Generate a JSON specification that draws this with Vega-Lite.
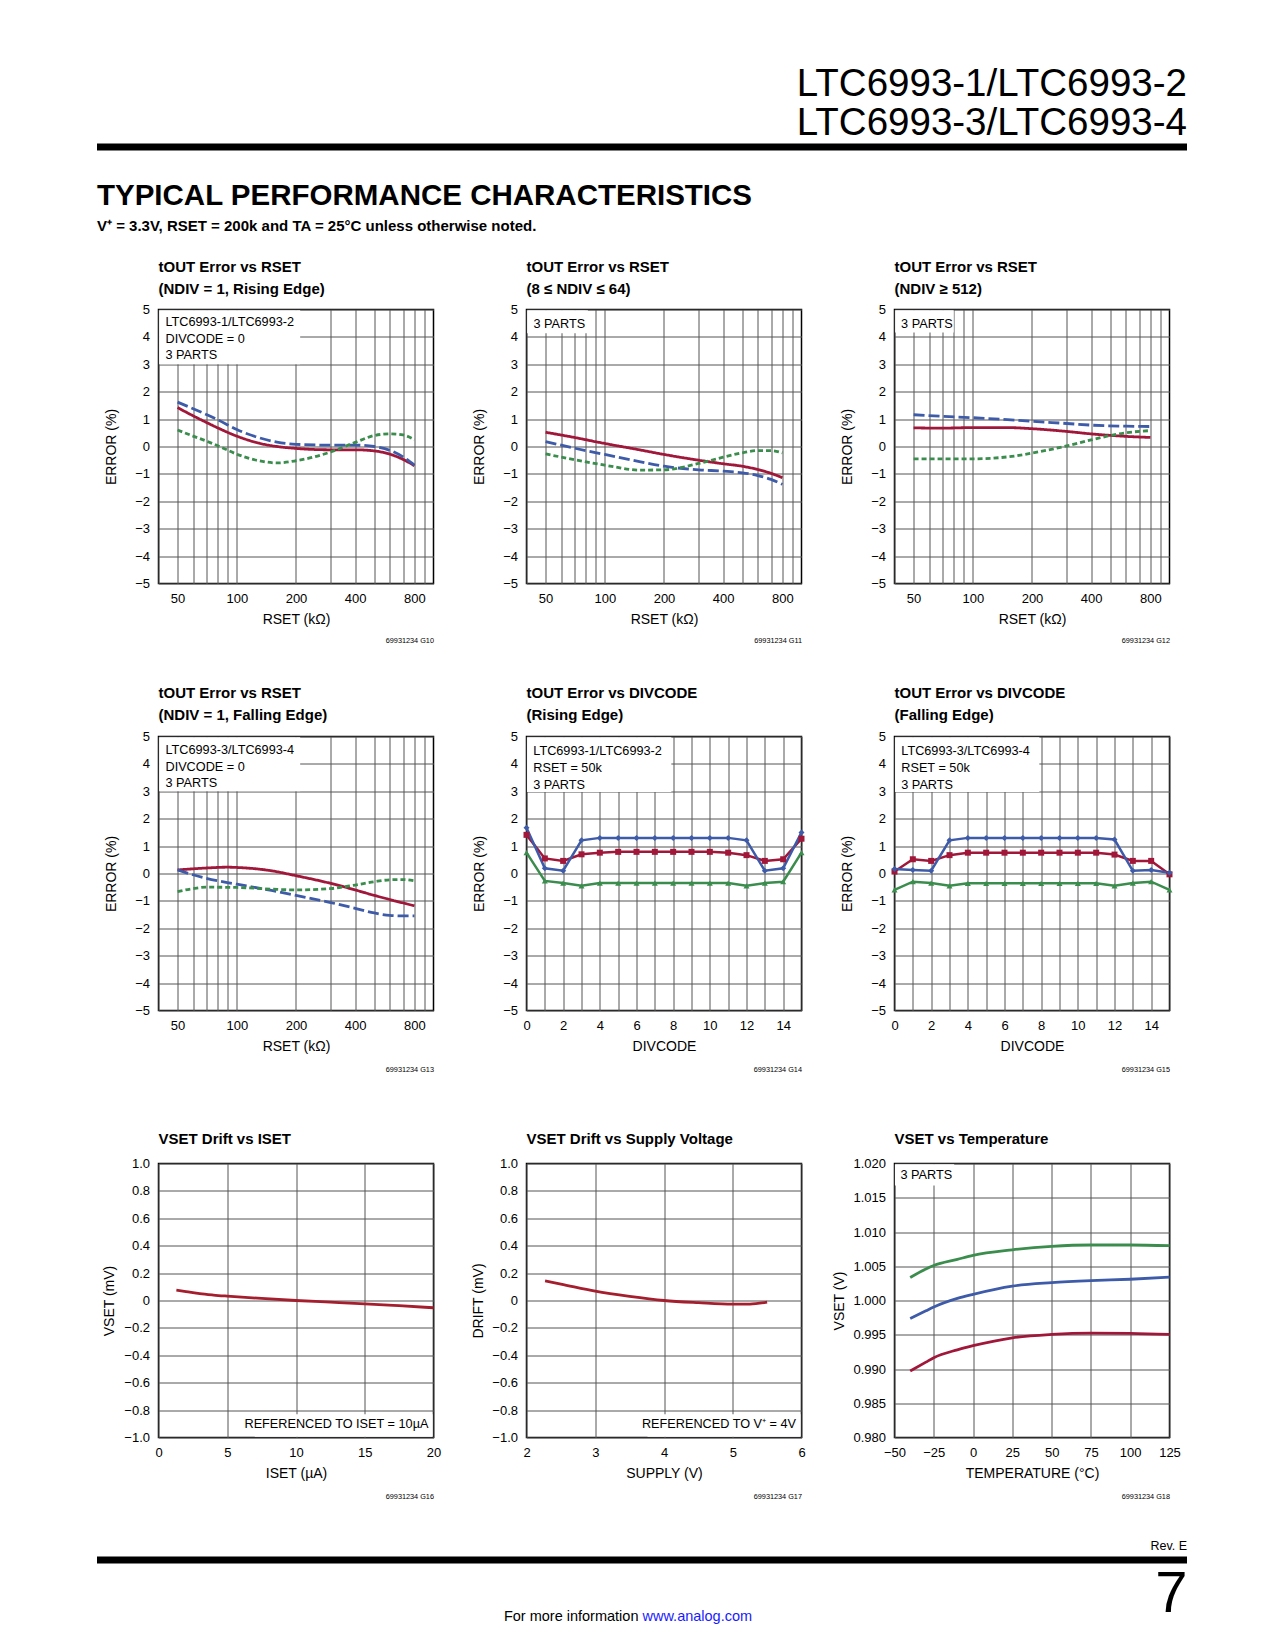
{
  "$schema": "https://vega.github.io/schema/vega-lite/v6.json",
  "background": "white",
  "padding": {"left": 94, "top": 64.5, "right": 10, "bottom": 10},
  "spacing": 38,
  "vconcat": [
    {
      "spacing": 30,
      "vconcat": [
        {
          "width": 1090,
          "height": 7,
          "title": {"text": ["LTC6993-1/LTC6993-2", "LTC6993-3/LTC6993-4"], "anchor": "end", "fontSize": 38.5, "fontWeight": "normal", "lineHeight": 39, "offset": 0},
          "view": {"stroke": null},
          "data": {"values": [{}]},
          "mark": {"type": "rect", "color": "black"},
          "encoding": {
            "x": {"datum": 0, "type": "quantitative", "scale": {"domain": [0, 1], "nice": false, "zero": false}, "axis": null},
            "x2": {"datum": 1},
            "y": {"datum": 0, "type": "quantitative", "scale": {"domain": [0, 1], "nice": false, "zero": false}, "axis": null},
            "y2": {"datum": 1}
          }
        },
        {
          "title": {"text": "TYPICAL PERFORMANCE CHARACTERISTICS", "subtitle": "V⁺ = 3.3V, RSET = 200k and TA = 25°C unless otherwise noted.", "fontSize": 29.5, "fontWeight": "bold", "subtitleFontSize": 15, "subtitleFontWeight": "bold", "subtitleFont": "Liberation Sans, Arial, sans-serif", "subtitleColor": "black", "subtitlePadding": 7, "offset": 24, "anchor": "start", "frame": "group"},
          "bounds": "flush",
          "spacing": 60.5,
          "hconcat": [
            {
              "width": 1,
              "height": 1,
              "view": {"stroke": null},
              "data": {"values": [{}]},
              "mark": {"type": "rect", "opacity": 0},
              "encoding": {
                "x": {"datum": 0, "type": "quantitative", "axis": null},
                "y": {"datum": 0, "type": "quantitative", "axis": null}
              }
            },
            {
              "columns": 3,
              "bounds": "flush",
              "spacing": {"row": 153, "column": 93},
              "concat": [
                {
                  "width": 275,
                  "height": 274,
                  "title": {"text": ["tOUT Error vs RSET", "(NDIV = 1, Rising Edge)"], "fontSize": 15, "lineHeight": 22, "offset": 7},
                  "layer": [
                    {"data": {"values": [
                      {"r": 50, "e": 1.42, "p": "Part 1"}, {"r": 60, "e": 1.12, "p": "Part 1"}, {"r": 70, "e": 0.88, "p": "Part 1"}, {"r": 80, "e": 0.68, "p": "Part 1"}, {"r": 100, "e": 0.38, "p": "Part 1"}, {"r": 130, "e": 0.12, "p": "Part 1"}, {"r": 160, "e": 0.0, "p": "Part 1"}, {"r": 200, "e": -0.07, "p": "Part 1"}, {"r": 300, "e": -0.12, "p": "Part 1"}, {"r": 400, "e": -0.12, "p": "Part 1"}, {"r": 500, "e": -0.16, "p": "Part 1"}, {"r": 600, "e": -0.28, "p": "Part 1"}, {"r": 700, "e": -0.47, "p": "Part 1"}, {"r": 800, "e": -0.7, "p": "Part 1"},
                      {"r": 50, "e": 1.62, "p": "Part 2"}, {"r": 60, "e": 1.38, "p": "Part 2"}, {"r": 70, "e": 1.17, "p": "Part 2"}, {"r": 80, "e": 0.98, "p": "Part 2"}, {"r": 100, "e": 0.62, "p": "Part 2"}, {"r": 130, "e": 0.32, "p": "Part 2"}, {"r": 160, "e": 0.16, "p": "Part 2"}, {"r": 200, "e": 0.08, "p": "Part 2"}, {"r": 300, "e": 0.05, "p": "Part 2"}, {"r": 400, "e": 0.05, "p": "Part 2"}, {"r": 500, "e": 0.0, "p": "Part 2"}, {"r": 600, "e": -0.14, "p": "Part 2"}, {"r": 700, "e": -0.38, "p": "Part 2"}, {"r": 800, "e": -0.68, "p": "Part 2"},
                      {"r": 50, "e": 0.6, "p": "Part 3"}, {"r": 60, "e": 0.38, "p": "Part 3"}, {"r": 70, "e": 0.2, "p": "Part 3"}, {"r": 80, "e": 0.03, "p": "Part 3"}, {"r": 100, "e": -0.28, "p": "Part 3"}, {"r": 130, "e": -0.52, "p": "Part 3"}, {"r": 160, "e": -0.6, "p": "Part 3"}, {"r": 200, "e": -0.52, "p": "Part 3"}, {"r": 300, "e": -0.2, "p": "Part 3"}, {"r": 400, "e": 0.15, "p": "Part 3"}, {"r": 500, "e": 0.4, "p": "Part 3"}, {"r": 600, "e": 0.46, "p": "Part 3"}, {"r": 700, "e": 0.42, "p": "Part 3"}, {"r": 800, "e": 0.25, "p": "Part 3"}
                    ]},
                     "mark": {"type": "line", "interpolate": "monotone", "strokeWidth": 2.8},
                     "encoding": {
                       "x": {"field": "r", "type": "quantitative", "scale": {"type": "log", "domain": [40, 1000], "nice": false}, "axis": {"orient": "bottom", "title": "RSET (kΩ)", "grid": true, "labelOverlap": false, "labelFlush": false, "values": [40, 50, 60, 70, 80, 90, 100, 200, 300, 400, 500, 600, 700, 800, 900], "labelExpr": "indexof([50,100,200,400,800], datum.value) >= 0 ? format(datum.value, 'd') : ''", "titlePadding": 7}},
                       "y": {"field": "e", "type": "quantitative", "scale": {"domain": [-5, 5], "nice": false, "zero": false}, "axis": {"title": "ERROR (%)", "grid": true, "labelOverlap": false, "values": [-5, -4, -3, -2, -1, 0, 1, 2, 3, 4, 5], "titlePadding": 16}},
                       "color": {"field": "p", "type": "nominal", "scale": {"domain": ["Part 1", "Part 2", "Part 3"], "range": ["#A0173A", "#3D5BA9", "#3A8D4C"]}, "legend": null},
                       "strokeDash": {"field": "p", "type": "nominal", "scale": {"domain": ["Part 1", "Part 2", "Part 3"], "range": [[1, 0], [11, 4], [5, 3]]}, "legend": null}
                     }},
                    {"data": {"values": [{}]}, "mark": {"type": "rect", "color": "white"},
                     "encoding": {"x": {"datum": 40.3, "type": "quantitative", "axis": {"orient": "bottom", "title": "69931234 G10", "labels": false, "grid": false, "titleFontSize": 7.3, "titleAnchor": "end", "titlePadding": 53}}, "x2": {"datum": 210}, "y": {"datum": 3.0, "type": "quantitative", "axis": null}, "y2": {"datum": 4.97}}},
                    {"data": {"values": [{}]}, "mark": {"type": "text", "align": "left", "baseline": "alphabetic", "lineHeight": 16.5},
                     "encoding": {"x": {"datum": 43.4, "type": "quantitative", "axis": null}, "y": {"datum": 4.38, "type": "quantitative", "axis": null}, "text": {"value": ["LTC6993-1/LTC6993-2", "DIVCODE = 0", "3 PARTS"]}}}
                  ],
                  "resolve": {"axis": {"x": "independent", "y": "independent"}}
                },
                {
                  "width": 275,
                  "height": 274,
                  "title": {"text": ["tOUT Error vs RSET", "(8 ≤ NDIV ≤ 64)"], "fontSize": 15, "lineHeight": 22, "offset": 7},
                  "layer": [
                    {"data": {"values": [
                      {"r": 50, "e": 0.52, "p": "Part 1"}, {"r": 70, "e": 0.33, "p": "Part 1"}, {"r": 100, "e": 0.11, "p": "Part 1"}, {"r": 150, "e": -0.12, "p": "Part 1"}, {"r": 200, "e": -0.29, "p": "Part 1"}, {"r": 300, "e": -0.5, "p": "Part 1"}, {"r": 400, "e": -0.63, "p": "Part 1"}, {"r": 500, "e": -0.72, "p": "Part 1"}, {"r": 600, "e": -0.84, "p": "Part 1"}, {"r": 700, "e": -0.98, "p": "Part 1"}, {"r": 800, "e": -1.14, "p": "Part 1"},
                      {"r": 50, "e": 0.18, "p": "Part 2"}, {"r": 70, "e": -0.06, "p": "Part 2"}, {"r": 100, "e": -0.29, "p": "Part 2"}, {"r": 150, "e": -0.55, "p": "Part 2"}, {"r": 200, "e": -0.72, "p": "Part 2"}, {"r": 300, "e": -0.85, "p": "Part 2"}, {"r": 400, "e": -0.9, "p": "Part 2"}, {"r": 500, "e": -0.96, "p": "Part 2"}, {"r": 600, "e": -1.06, "p": "Part 2"}, {"r": 700, "e": -1.2, "p": "Part 2"}, {"r": 800, "e": -1.38, "p": "Part 2"},
                      {"r": 50, "e": -0.27, "p": "Part 3"}, {"r": 70, "e": -0.48, "p": "Part 3"}, {"r": 100, "e": -0.68, "p": "Part 3"}, {"r": 150, "e": -0.86, "p": "Part 3"}, {"r": 200, "e": -0.85, "p": "Part 3"}, {"r": 300, "e": -0.62, "p": "Part 3"}, {"r": 400, "e": -0.39, "p": "Part 3"}, {"r": 500, "e": -0.23, "p": "Part 3"}, {"r": 600, "e": -0.15, "p": "Part 3"}, {"r": 700, "e": -0.15, "p": "Part 3"}, {"r": 800, "e": -0.23, "p": "Part 3"}
                    ]},
                     "mark": {"type": "line", "interpolate": "monotone", "strokeWidth": 2.8},
                     "encoding": {
                       "x": {"field": "r", "type": "quantitative", "scale": {"type": "log", "domain": [40, 1000], "nice": false}, "axis": {"orient": "bottom", "title": "RSET (kΩ)", "grid": true, "labelOverlap": false, "labelFlush": false, "values": [40, 50, 60, 70, 80, 90, 100, 200, 300, 400, 500, 600, 700, 800, 900], "labelExpr": "indexof([50,100,200,400,800], datum.value) >= 0 ? format(datum.value, 'd') : ''", "titlePadding": 7}},
                       "y": {"field": "e", "type": "quantitative", "scale": {"domain": [-5, 5], "nice": false, "zero": false}, "axis": {"title": "ERROR (%)", "grid": true, "labelOverlap": false, "values": [-5, -4, -3, -2, -1, 0, 1, 2, 3, 4, 5], "titlePadding": 16}},
                       "color": {"field": "p", "type": "nominal", "scale": {"domain": ["Part 1", "Part 2", "Part 3"], "range": ["#A0173A", "#3D5BA9", "#3A8D4C"]}, "legend": null},
                       "strokeDash": {"field": "p", "type": "nominal", "scale": {"domain": ["Part 1", "Part 2", "Part 3"], "range": [[1, 0], [11, 4], [5, 3]]}, "legend": null}
                     }},
                    {"data": {"values": [{}]}, "mark": {"type": "rect", "color": "white"},
                     "encoding": {"x": {"datum": 40.3, "type": "quantitative", "axis": {"orient": "bottom", "title": "69931234 G11", "labels": false, "grid": false, "titleFontSize": 7.3, "titleAnchor": "end", "titlePadding": 53}}, "x2": {"datum": 82}, "y": {"datum": 4.13, "type": "quantitative", "axis": null}, "y2": {"datum": 4.97}}},
                    {"data": {"values": [{}]}, "mark": {"type": "text", "align": "left", "baseline": "alphabetic", "lineHeight": 16.5},
                     "encoding": {"x": {"datum": 43.4, "type": "quantitative", "axis": null}, "y": {"datum": 4.34, "type": "quantitative", "axis": null}, "text": {"value": "3 PARTS"}}}
                  ],
                  "resolve": {"axis": {"x": "independent", "y": "independent"}}
                },
                {
                  "width": 275,
                  "height": 274,
                  "title": {"text": ["tOUT Error vs RSET", "(NDIV ≥ 512)"], "fontSize": 15, "lineHeight": 22, "offset": 7},
                  "layer": [
                    {"data": {"values": [
                      {"r": 50, "e": 0.68, "p": "Part 1"}, {"r": 70, "e": 0.67, "p": "Part 1"}, {"r": 100, "e": 0.69, "p": "Part 1"}, {"r": 150, "e": 0.69, "p": "Part 1"}, {"r": 200, "e": 0.65, "p": "Part 1"}, {"r": 300, "e": 0.55, "p": "Part 1"}, {"r": 400, "e": 0.46, "p": "Part 1"}, {"r": 600, "e": 0.37, "p": "Part 1"}, {"r": 800, "e": 0.33, "p": "Part 1"},
                      {"r": 50, "e": 1.16, "p": "Part 2"}, {"r": 70, "e": 1.1, "p": "Part 2"}, {"r": 100, "e": 1.05, "p": "Part 2"}, {"r": 150, "e": 0.98, "p": "Part 2"}, {"r": 200, "e": 0.92, "p": "Part 2"}, {"r": 300, "e": 0.84, "p": "Part 2"}, {"r": 400, "e": 0.78, "p": "Part 2"}, {"r": 600, "e": 0.74, "p": "Part 2"}, {"r": 800, "e": 0.73, "p": "Part 2"},
                      {"r": 50, "e": -0.45, "p": "Part 3"}, {"r": 70, "e": -0.45, "p": "Part 3"}, {"r": 100, "e": -0.45, "p": "Part 3"}, {"r": 150, "e": -0.38, "p": "Part 3"}, {"r": 200, "e": -0.24, "p": "Part 3"}, {"r": 300, "e": 0.02, "p": "Part 3"}, {"r": 400, "e": 0.24, "p": "Part 3"}, {"r": 500, "e": 0.4, "p": "Part 3"}, {"r": 600, "e": 0.5, "p": "Part 3"}, {"r": 800, "e": 0.58, "p": "Part 3"}
                    ]},
                     "mark": {"type": "line", "interpolate": "monotone", "strokeWidth": 2.8},
                     "encoding": {
                       "x": {"field": "r", "type": "quantitative", "scale": {"type": "log", "domain": [40, 1000], "nice": false}, "axis": {"orient": "bottom", "title": "RSET (kΩ)", "grid": true, "labelOverlap": false, "labelFlush": false, "values": [40, 50, 60, 70, 80, 90, 100, 200, 300, 400, 500, 600, 700, 800, 900], "labelExpr": "indexof([50,100,200,400,800], datum.value) >= 0 ? format(datum.value, 'd') : ''", "titlePadding": 7}},
                       "y": {"field": "e", "type": "quantitative", "scale": {"domain": [-5, 5], "nice": false, "zero": false}, "axis": {"title": "ERROR (%)", "grid": true, "labelOverlap": false, "values": [-5, -4, -3, -2, -1, 0, 1, 2, 3, 4, 5], "titlePadding": 16}},
                       "color": {"field": "p", "type": "nominal", "scale": {"domain": ["Part 1", "Part 2", "Part 3"], "range": ["#A0173A", "#3D5BA9", "#3A8D4C"]}, "legend": null},
                       "strokeDash": {"field": "p", "type": "nominal", "scale": {"domain": ["Part 1", "Part 2", "Part 3"], "range": [[1, 0], [11, 4], [5, 3]]}, "legend": null}
                     }},
                    {"data": {"values": [{}]}, "mark": {"type": "rect", "color": "white"},
                     "encoding": {"x": {"datum": 40.3, "type": "quantitative", "axis": {"orient": "bottom", "title": "69931234 G12", "labels": false, "grid": false, "titleFontSize": 7.3, "titleAnchor": "end", "titlePadding": 53}}, "x2": {"datum": 80}, "y": {"datum": 4.16, "type": "quantitative", "axis": null}, "y2": {"datum": 4.97}}},
                    {"data": {"values": [{}]}, "mark": {"type": "text", "align": "left", "baseline": "alphabetic", "lineHeight": 16.5},
                     "encoding": {"x": {"datum": 43.2, "type": "quantitative", "axis": null}, "y": {"datum": 4.31, "type": "quantitative", "axis": null}, "text": {"value": "3 PARTS"}}}
                  ],
                  "resolve": {"axis": {"x": "independent", "y": "independent"}}
                },
                {
                  "width": 275,
                  "height": 274,
                  "title": {"text": ["tOUT Error vs RSET", "(NDIV = 1, Falling Edge)"], "fontSize": 15, "lineHeight": 22, "offset": 8},
                  "layer": [
                    {"data": {"values": [
                      {"r": 50, "e": 0.13, "p": "Part 1"}, {"r": 70, "e": 0.2, "p": "Part 1"}, {"r": 90, "e": 0.23, "p": "Part 1"}, {"r": 100, "e": 0.22, "p": "Part 1"}, {"r": 150, "e": 0.1, "p": "Part 1"}, {"r": 200, "e": -0.08, "p": "Part 1"}, {"r": 300, "e": -0.36, "p": "Part 1"}, {"r": 400, "e": -0.6, "p": "Part 1"}, {"r": 500, "e": -0.8, "p": "Part 1"}, {"r": 600, "e": -0.95, "p": "Part 1"}, {"r": 800, "e": -1.18, "p": "Part 1"},
                      {"r": 50, "e": 0.13, "p": "Part 2"}, {"r": 70, "e": -0.18, "p": "Part 2"}, {"r": 100, "e": -0.39, "p": "Part 2"}, {"r": 150, "e": -0.62, "p": "Part 2"}, {"r": 200, "e": -0.8, "p": "Part 2"}, {"r": 300, "e": -1.06, "p": "Part 2"}, {"r": 400, "e": -1.27, "p": "Part 2"}, {"r": 500, "e": -1.44, "p": "Part 2"}, {"r": 600, "e": -1.53, "p": "Part 2"}, {"r": 700, "e": -1.55, "p": "Part 2"}, {"r": 800, "e": -1.55, "p": "Part 2"},
                      {"r": 50, "e": -0.66, "p": "Part 3"}, {"r": 60, "e": -0.55, "p": "Part 3"}, {"r": 70, "e": -0.5, "p": "Part 3"}, {"r": 100, "e": -0.51, "p": "Part 3"}, {"r": 150, "e": -0.57, "p": "Part 3"}, {"r": 200, "e": -0.6, "p": "Part 3"}, {"r": 300, "e": -0.55, "p": "Part 3"}, {"r": 400, "e": -0.42, "p": "Part 3"}, {"r": 500, "e": -0.3, "p": "Part 3"}, {"r": 600, "e": -0.23, "p": "Part 3"}, {"r": 700, "e": -0.22, "p": "Part 3"}, {"r": 800, "e": -0.27, "p": "Part 3"}
                    ]},
                     "mark": {"type": "line", "interpolate": "monotone", "strokeWidth": 2.8},
                     "encoding": {
                       "x": {"field": "r", "type": "quantitative", "scale": {"type": "log", "domain": [40, 1000], "nice": false}, "axis": {"orient": "bottom", "title": "RSET (kΩ)", "grid": true, "labelOverlap": false, "labelFlush": false, "values": [40, 50, 60, 70, 80, 90, 100, 200, 300, 400, 500, 600, 700, 800, 900], "labelExpr": "indexof([50,100,200,400,800], datum.value) >= 0 ? format(datum.value, 'd') : ''", "titlePadding": 7}},
                       "y": {"field": "e", "type": "quantitative", "scale": {"domain": [-5, 5], "nice": false, "zero": false}, "axis": {"title": "ERROR (%)", "grid": true, "labelOverlap": false, "values": [-5, -4, -3, -2, -1, 0, 1, 2, 3, 4, 5], "titlePadding": 16}},
                       "color": {"field": "p", "type": "nominal", "scale": {"domain": ["Part 1", "Part 2", "Part 3"], "range": ["#A0173A", "#3D5BA9", "#3A8D4C"]}, "legend": null},
                       "strokeDash": {"field": "p", "type": "nominal", "scale": {"domain": ["Part 1", "Part 2", "Part 3"], "range": [[1, 0], [11, 4], [5, 3]]}, "legend": null}
                     }},
                    {"data": {"values": [{}]}, "mark": {"type": "rect", "color": "white"},
                     "encoding": {"x": {"datum": 40.3, "type": "quantitative", "axis": {"orient": "bottom", "title": "69931234 G13", "labels": false, "grid": false, "titleFontSize": 7.3, "titleAnchor": "end", "titlePadding": 55}}, "x2": {"datum": 210}, "y": {"datum": 3.0, "type": "quantitative", "axis": null}, "y2": {"datum": 4.97}}},
                    {"data": {"values": [{}]}, "mark": {"type": "text", "align": "left", "baseline": "alphabetic", "lineHeight": 16.5},
                     "encoding": {"x": {"datum": 43.4, "type": "quantitative", "axis": null}, "y": {"datum": 4.35, "type": "quantitative", "axis": null}, "text": {"value": ["LTC6993-3/LTC6993-4", "DIVCODE = 0", "3 PARTS"]}}}
                  ],
                  "resolve": {"axis": {"x": "independent", "y": "independent"}}
                },
                {
                  "width": 275,
                  "height": 274,
                  "title": {"text": ["tOUT Error vs DIVCODE", "(Rising Edge)"], "fontSize": 15, "lineHeight": 22, "offset": 8},
                  "data": {"values": [
                    {"d": 0, "e": 1.41, "p": "Part 1"}, {"d": 1, "e": 0.55, "p": "Part 1"}, {"d": 2, "e": 0.46, "p": "Part 1"}, {"d": 3, "e": 0.7, "p": "Part 1"}, {"d": 4, "e": 0.76, "p": "Part 1"}, {"d": 5, "e": 0.79, "p": "Part 1"}, {"d": 6, "e": 0.79, "p": "Part 1"}, {"d": 7, "e": 0.79, "p": "Part 1"}, {"d": 8, "e": 0.79, "p": "Part 1"}, {"d": 9, "e": 0.79, "p": "Part 1"}, {"d": 10, "e": 0.79, "p": "Part 1"}, {"d": 11, "e": 0.76, "p": "Part 1"}, {"d": 12, "e": 0.67, "p": "Part 1"}, {"d": 13, "e": 0.46, "p": "Part 1"}, {"d": 14, "e": 0.52, "p": "Part 1"}, {"d": 15, "e": 1.27, "p": "Part 1"},
                    {"d": 0, "e": 1.67, "p": "Part 2"}, {"d": 1, "e": 0.19, "p": "Part 2"}, {"d": 2, "e": 0.1, "p": "Part 2"}, {"d": 3, "e": 1.21, "p": "Part 2"}, {"d": 4, "e": 1.3, "p": "Part 2"}, {"d": 5, "e": 1.3, "p": "Part 2"}, {"d": 6, "e": 1.3, "p": "Part 2"}, {"d": 7, "e": 1.3, "p": "Part 2"}, {"d": 8, "e": 1.3, "p": "Part 2"}, {"d": 9, "e": 1.3, "p": "Part 2"}, {"d": 10, "e": 1.3, "p": "Part 2"}, {"d": 11, "e": 1.3, "p": "Part 2"}, {"d": 12, "e": 1.21, "p": "Part 2"}, {"d": 13, "e": 0.1, "p": "Part 2"}, {"d": 14, "e": 0.19, "p": "Part 2"}, {"d": 15, "e": 1.5, "p": "Part 2"},
                    {"d": 0, "e": 0.76, "p": "Part 3"}, {"d": 1, "e": -0.27, "p": "Part 3"}, {"d": 2, "e": -0.35, "p": "Part 3"}, {"d": 3, "e": -0.45, "p": "Part 3"}, {"d": 4, "e": -0.35, "p": "Part 3"}, {"d": 5, "e": -0.35, "p": "Part 3"}, {"d": 6, "e": -0.35, "p": "Part 3"}, {"d": 7, "e": -0.35, "p": "Part 3"}, {"d": 8, "e": -0.35, "p": "Part 3"}, {"d": 9, "e": -0.35, "p": "Part 3"}, {"d": 10, "e": -0.35, "p": "Part 3"}, {"d": 11, "e": -0.35, "p": "Part 3"}, {"d": 12, "e": -0.45, "p": "Part 3"}, {"d": 13, "e": -0.35, "p": "Part 3"}, {"d": 14, "e": -0.3, "p": "Part 3"}, {"d": 15, "e": 0.76, "p": "Part 3"}
                  ]},
                  "layer": [
                    {"mark": {"type": "line", "strokeWidth": 2.5},
                     "encoding": {
                       "x": {"field": "d", "type": "quantitative", "scale": {"domain": [0, 15], "nice": false, "zero": false}, "axis": {"orient": "bottom", "title": "DIVCODE", "grid": true, "labelOverlap": false, "labelFlush": false, "values": [0, 1, 2, 3, 4, 5, 6, 7, 8, 9, 10, 11, 12, 13, 14, 15], "labelExpr": "datum.value % 2 == 0 && datum.value < 15 ? format(datum.value, 'd') : ''", "titlePadding": 7}},
                       "y": {"field": "e", "type": "quantitative", "scale": {"domain": [-5, 5], "nice": false, "zero": false}, "axis": {"title": "ERROR (%)", "grid": true, "labelOverlap": false, "values": [-5, -4, -3, -2, -1, 0, 1, 2, 3, 4, 5], "titlePadding": 16}},
                       "color": {"field": "p", "type": "nominal", "scale": {"domain": ["Part 1", "Part 2", "Part 3"], "range": ["#A0173A", "#3D5BA9", "#3A8D4C"]}, "legend": null}
                     }},
                    {"mark": {"type": "point", "filled": true, "size": 36, "opacity": 1},
                     "encoding": {
                       "x": {"field": "d", "type": "quantitative", "axis": null},
                       "y": {"field": "e", "type": "quantitative", "axis": null},
                       "color": {"field": "p", "type": "nominal", "scale": {"domain": ["Part 1", "Part 2", "Part 3"], "range": ["#A0173A", "#3D5BA9", "#3A8D4C"]}, "legend": null},
                       "shape": {"field": "p", "type": "nominal", "scale": {"domain": ["Part 1", "Part 2", "Part 3"], "range": ["square", "diamond", "triangle-up"]}, "legend": null}
                     }},
                    {"data": {"values": [{}]}, "mark": {"type": "rect", "color": "white"},
                     "encoding": {"x": {"datum": 0.03, "type": "quantitative", "axis": {"orient": "bottom", "title": "69931234 G14", "labels": false, "grid": false, "titleFontSize": 7.3, "titleAnchor": "end", "titlePadding": 55}}, "x2": {"datum": 7.9}, "y": {"datum": 2.97, "type": "quantitative", "axis": null}, "y2": {"datum": 4.97}}},
                    {"data": {"values": [{}]}, "mark": {"type": "text", "align": "left", "baseline": "alphabetic", "lineHeight": 16.7},
                     "encoding": {"x": {"datum": 0.37, "type": "quantitative", "axis": null}, "y": {"datum": 4.31, "type": "quantitative", "axis": null}, "text": {"value": ["LTC6993-1/LTC6993-2", "RSET = 50k", "3 PARTS"]}}}
                  ],
                  "resolve": {"axis": {"x": "independent", "y": "independent"}}
                },
                {
                  "width": 275,
                  "height": 274,
                  "title": {"text": ["tOUT Error vs DIVCODE", "(Falling Edge)"], "fontSize": 15, "lineHeight": 22, "offset": 8},
                  "data": {"values": [
                    {"d": 0, "e": 0.07, "p": "Part 1"}, {"d": 1, "e": 0.52, "p": "Part 1"}, {"d": 2, "e": 0.46, "p": "Part 1"}, {"d": 3, "e": 0.67, "p": "Part 1"}, {"d": 4, "e": 0.76, "p": "Part 1"}, {"d": 5, "e": 0.76, "p": "Part 1"}, {"d": 6, "e": 0.76, "p": "Part 1"}, {"d": 7, "e": 0.76, "p": "Part 1"}, {"d": 8, "e": 0.76, "p": "Part 1"}, {"d": 9, "e": 0.76, "p": "Part 1"}, {"d": 10, "e": 0.76, "p": "Part 1"}, {"d": 11, "e": 0.76, "p": "Part 1"}, {"d": 12, "e": 0.69, "p": "Part 1"}, {"d": 13, "e": 0.46, "p": "Part 1"}, {"d": 14, "e": 0.46, "p": "Part 1"}, {"d": 15, "e": -0.03, "p": "Part 1"},
                    {"d": 0, "e": 0.16, "p": "Part 2"}, {"d": 1, "e": 0.13, "p": "Part 2"}, {"d": 2, "e": 0.1, "p": "Part 2"}, {"d": 3, "e": 1.21, "p": "Part 2"}, {"d": 4, "e": 1.3, "p": "Part 2"}, {"d": 5, "e": 1.3, "p": "Part 2"}, {"d": 6, "e": 1.3, "p": "Part 2"}, {"d": 7, "e": 1.3, "p": "Part 2"}, {"d": 8, "e": 1.3, "p": "Part 2"}, {"d": 9, "e": 1.3, "p": "Part 2"}, {"d": 10, "e": 1.3, "p": "Part 2"}, {"d": 11, "e": 1.3, "p": "Part 2"}, {"d": 12, "e": 1.24, "p": "Part 2"}, {"d": 13, "e": 0.1, "p": "Part 2"}, {"d": 14, "e": 0.13, "p": "Part 2"}, {"d": 15, "e": 0.03, "p": "Part 2"},
                    {"d": 0, "e": -0.6, "p": "Part 3"}, {"d": 1, "e": -0.3, "p": "Part 3"}, {"d": 2, "e": -0.35, "p": "Part 3"}, {"d": 3, "e": -0.45, "p": "Part 3"}, {"d": 4, "e": -0.36, "p": "Part 3"}, {"d": 5, "e": -0.36, "p": "Part 3"}, {"d": 6, "e": -0.36, "p": "Part 3"}, {"d": 7, "e": -0.36, "p": "Part 3"}, {"d": 8, "e": -0.36, "p": "Part 3"}, {"d": 9, "e": -0.36, "p": "Part 3"}, {"d": 10, "e": -0.36, "p": "Part 3"}, {"d": 11, "e": -0.36, "p": "Part 3"}, {"d": 12, "e": -0.45, "p": "Part 3"}, {"d": 13, "e": -0.35, "p": "Part 3"}, {"d": 14, "e": -0.3, "p": "Part 3"}, {"d": 15, "e": -0.6, "p": "Part 3"}
                  ]},
                  "layer": [
                    {"mark": {"type": "line", "strokeWidth": 2.5},
                     "encoding": {
                       "x": {"field": "d", "type": "quantitative", "scale": {"domain": [0, 15], "nice": false, "zero": false}, "axis": {"orient": "bottom", "title": "DIVCODE", "grid": true, "labelOverlap": false, "labelFlush": false, "values": [0, 1, 2, 3, 4, 5, 6, 7, 8, 9, 10, 11, 12, 13, 14, 15], "labelExpr": "datum.value % 2 == 0 && datum.value < 15 ? format(datum.value, 'd') : ''", "titlePadding": 7}},
                       "y": {"field": "e", "type": "quantitative", "scale": {"domain": [-5, 5], "nice": false, "zero": false}, "axis": {"title": "ERROR (%)", "grid": true, "labelOverlap": false, "values": [-5, -4, -3, -2, -1, 0, 1, 2, 3, 4, 5], "titlePadding": 16}},
                       "color": {"field": "p", "type": "nominal", "scale": {"domain": ["Part 1", "Part 2", "Part 3"], "range": ["#A0173A", "#3D5BA9", "#3A8D4C"]}, "legend": null}
                     }},
                    {"mark": {"type": "point", "filled": true, "size": 36, "opacity": 1},
                     "encoding": {
                       "x": {"field": "d", "type": "quantitative", "axis": null},
                       "y": {"field": "e", "type": "quantitative", "axis": null},
                       "color": {"field": "p", "type": "nominal", "scale": {"domain": ["Part 1", "Part 2", "Part 3"], "range": ["#A0173A", "#3D5BA9", "#3A8D4C"]}, "legend": null},
                       "shape": {"field": "p", "type": "nominal", "scale": {"domain": ["Part 1", "Part 2", "Part 3"], "range": ["square", "diamond", "triangle-up"]}, "legend": null}
                     }},
                    {"data": {"values": [{}]}, "mark": {"type": "rect", "color": "white"},
                     "encoding": {"x": {"datum": 0.03, "type": "quantitative", "axis": {"orient": "bottom", "title": "69931234 G15", "labels": false, "grid": false, "titleFontSize": 7.3, "titleAnchor": "end", "titlePadding": 55}}, "x2": {"datum": 7.9}, "y": {"datum": 2.97, "type": "quantitative", "axis": null}, "y2": {"datum": 4.97}}},
                    {"data": {"values": [{}]}, "mark": {"type": "text", "align": "left", "baseline": "alphabetic", "lineHeight": 16.7},
                     "encoding": {"x": {"datum": 0.37, "type": "quantitative", "axis": null}, "y": {"datum": 4.31, "type": "quantitative", "axis": null}, "text": {"value": ["LTC6993-3/LTC6993-4", "RSET = 50k", "3 PARTS"]}}}
                  ],
                  "resolve": {"axis": {"x": "independent", "y": "independent"}}
                },
                {
                  "width": 275,
                  "height": 274,
                  "title": {"text": "VSET Drift vs ISET", "fontSize": 15, "offset": 10.5},
                  "layer": [
                    {"data": {"values": [
                      {"i": 1.3, "v": 0.075}, {"i": 2, "v": 0.065}, {"i": 3, "v": 0.05}, {"i": 4, "v": 0.04}, {"i": 5, "v": 0.032}, {"i": 7.5, "v": 0.015}, {"i": 10, "v": 0.0}, {"i": 12.5, "v": -0.012}, {"i": 15, "v": -0.024}, {"i": 17.5, "v": -0.038}, {"i": 20, "v": -0.053}
                    ]},
                     "mark": {"type": "line", "interpolate": "monotone", "strokeWidth": 2.8, "color": "#A51E2D"},
                     "encoding": {
                       "x": {"field": "i", "type": "quantitative", "scale": {"domain": [0, 20], "nice": false, "zero": false}, "axis": {"orient": "bottom", "title": "ISET (µA)", "grid": true, "labelOverlap": false, "labelFlush": false, "values": [0, 5, 10, 15, 20], "format": "d", "titlePadding": 7}},
                       "y": {"field": "v", "type": "quantitative", "scale": {"domain": [-1, 1], "nice": false, "zero": false}, "axis": {"title": "VSET (mV)", "grid": true, "labelOverlap": false, "values": [-1, -0.8, -0.6, -0.4, -0.2, 0, 0.2, 0.4, 0.6, 0.8, 1], "labelExpr": "datum.value == 0 ? '0' : format(datum.value, '.1f')", "titlePadding": 7.5}}
                     }},
                    {"data": {"values": [{}]}, "mark": {"type": "rect", "color": "white"},
                     "encoding": {"x": {"datum": 7.0, "type": "quantitative", "axis": {"orient": "bottom", "title": "69931234 G16", "labels": false, "grid": false, "titleFontSize": 7.3, "titleAnchor": "end", "titlePadding": 55}}, "x2": {"datum": 19.93}, "y": {"datum": -0.995, "type": "quantitative", "axis": null}, "y2": {"datum": -0.83}}},
                    {"data": {"values": [{}]}, "mark": {"type": "text", "align": "right", "baseline": "alphabetic"},
                     "encoding": {"x": {"datum": 19.63, "type": "quantitative", "axis": null}, "y": {"datum": -0.93, "type": "quantitative", "axis": null}, "text": {"value": "REFERENCED TO ISET = 10µA"}}}
                  ],
                  "resolve": {"axis": {"x": "independent", "y": "independent"}}
                },
                {
                  "width": 275,
                  "height": 274,
                  "title": {"text": "VSET Drift vs Supply Voltage", "fontSize": 15, "offset": 10.5},
                  "layer": [
                    {"data": {"values": [
                      {"s": 2.27, "v": 0.143}, {"s": 2.5, "v": 0.12}, {"s": 3, "v": 0.068}, {"s": 3.5, "v": 0.03}, {"s": 4, "v": 0.0}, {"s": 4.5, "v": -0.016}, {"s": 5, "v": -0.027}, {"s": 5.25, "v": -0.026}, {"s": 5.5, "v": -0.012}
                    ]},
                     "mark": {"type": "line", "interpolate": "monotone", "strokeWidth": 2.8, "color": "#A51E2D"},
                     "encoding": {
                       "x": {"field": "s", "type": "quantitative", "scale": {"domain": [2, 6], "nice": false, "zero": false}, "axis": {"orient": "bottom", "title": "SUPPLY (V)", "grid": true, "labelOverlap": false, "labelFlush": false, "values": [2, 3, 4, 5, 6], "format": "d", "titlePadding": 7}},
                       "y": {"field": "v", "type": "quantitative", "scale": {"domain": [-1, 1], "nice": false, "zero": false}, "axis": {"title": "DRIFT (mV)", "grid": true, "labelOverlap": false, "values": [-1, -0.8, -0.6, -0.4, -0.2, 0, 0.2, 0.4, 0.6, 0.8, 1], "labelExpr": "datum.value == 0 ? '0' : format(datum.value, '.1f')", "titlePadding": 6.3}}
                     }},
                    {"data": {"values": [{}]}, "mark": {"type": "rect", "color": "white"},
                     "encoding": {"x": {"datum": 3.76, "type": "quantitative", "axis": {"orient": "bottom", "title": "69931234 G17", "labels": false, "grid": false, "titleFontSize": 7.3, "titleAnchor": "end", "titlePadding": 55}}, "x2": {"datum": 5.985}, "y": {"datum": -0.995, "type": "quantitative", "axis": null}, "y2": {"datum": -0.83}}},
                    {"data": {"values": [{}]}, "mark": {"type": "text", "align": "right", "baseline": "alphabetic"},
                     "encoding": {"x": {"datum": 5.92, "type": "quantitative", "axis": null}, "y": {"datum": -0.93, "type": "quantitative", "axis": null}, "text": {"value": "REFERENCED TO V⁺ = 4V"}}}
                  ],
                  "resolve": {"axis": {"x": "independent", "y": "independent"}}
                },
                {
                  "width": 275,
                  "height": 274,
                  "title": {"text": "VSET vs Temperature", "fontSize": 15, "offset": 10.5},
                  "layer": [
                    {"data": {"values": [
                      {"t": -40, "v": 0.9897, "p": "Part 1"}, {"t": -30, "v": 0.991, "p": "Part 1"}, {"t": -25, "v": 0.99165, "p": "Part 1"}, {"t": -10, "v": 0.9928, "p": "Part 1"}, {"t": 0, "v": 0.9934, "p": "Part 1"}, {"t": 25, "v": 0.99456, "p": "Part 1"}, {"t": 50, "v": 0.99505, "p": "Part 1"}, {"t": 75, "v": 0.99524, "p": "Part 1"}, {"t": 100, "v": 0.9952, "p": "Part 1"}, {"t": 125, "v": 0.99505, "p": "Part 1"},
                      {"t": -40, "v": 0.99738, "p": "Part 2"}, {"t": -30, "v": 0.9985, "p": "Part 2"}, {"t": -25, "v": 0.99905, "p": "Part 2"}, {"t": -10, "v": 1.0003, "p": "Part 2"}, {"t": 0, "v": 1.0009, "p": "Part 2"}, {"t": 25, "v": 1.0021, "p": "Part 2"}, {"t": 50, "v": 1.0026, "p": "Part 2"}, {"t": 75, "v": 1.0029, "p": "Part 2"}, {"t": 100, "v": 1.0031, "p": "Part 2"}, {"t": 125, "v": 1.0034, "p": "Part 2"},
                      {"t": -40, "v": 1.00335, "p": "Part 3"}, {"t": -30, "v": 1.0046, "p": "Part 3"}, {"t": -25, "v": 1.0051, "p": "Part 3"}, {"t": -10, "v": 1.006, "p": "Part 3"}, {"t": 0, "v": 1.0066, "p": "Part 3"}, {"t": 25, "v": 1.0074, "p": "Part 3"}, {"t": 50, "v": 1.0079, "p": "Part 3"}, {"t": 75, "v": 1.0081, "p": "Part 3"}, {"t": 100, "v": 1.0081, "p": "Part 3"}, {"t": 125, "v": 1.008, "p": "Part 3"}
                    ]},
                     "mark": {"type": "line", "interpolate": "monotone", "strokeWidth": 2.8},
                     "encoding": {
                       "x": {"field": "t", "type": "quantitative", "scale": {"domain": [-50, 125], "nice": false, "zero": false}, "axis": {"orient": "bottom", "title": "TEMPERATURE (°C)", "grid": true, "labelOverlap": false, "labelFlush": false, "values": [-50, -25, 0, 25, 50, 75, 100, 125], "format": "d", "titlePadding": 7}},
                       "y": {"field": "v", "type": "quantitative", "scale": {"domain": [0.98, 1.02], "nice": false, "zero": false}, "axis": {"title": "VSET (V)", "grid": true, "labelOverlap": false, "values": [0.98, 0.985, 0.99, 0.995, 1.0, 1.005, 1.01, 1.015, 1.02], "format": ".3f", "titlePadding": 6}},
                       "color": {"field": "p", "type": "nominal", "scale": {"domain": ["Part 1", "Part 2", "Part 3"], "range": ["#A0173A", "#3D5BA9", "#3A8D4C"]}, "legend": null}
                     }},
                    {"data": {"values": [{}]}, "mark": {"type": "rect", "color": "white"},
                     "encoding": {"x": {"datum": -49.7, "type": "quantitative", "axis": {"orient": "bottom", "title": "69931234 G18", "labels": false, "grid": false, "titleFontSize": 7.3, "titleAnchor": "end", "titlePadding": 55}}, "x2": {"datum": -12}, "y": {"datum": 1.0168, "type": "quantitative", "axis": null}, "y2": {"datum": 1.0199}}},
                    {"data": {"values": [{}]}, "mark": {"type": "text", "align": "left", "baseline": "alphabetic"},
                     "encoding": {"x": {"datum": -46.2, "type": "quantitative", "axis": null}, "y": {"datum": 1.0177, "type": "quantitative", "axis": null}, "text": {"value": "3 PARTS"}}}
                  ],
                  "resolve": {"axis": {"x": "independent", "y": "independent"}}
                }
              ]
            }
          ]
        }
      ]
    },
    {
      "width": 1090,
      "height": 7,
      "title": {"text": "Rev. E", "anchor": "end", "fontSize": 12.5, "fontWeight": "normal", "offset": 4},
      "view": {"stroke": null},
      "layer": [
        {"data": {"values": [{}]}, "mark": {"type": "rect", "color": "black"},
         "encoding": {
           "x": {"datum": 0, "type": "quantitative", "scale": {"domain": [0, 1], "nice": false, "zero": false}, "axis": null},
           "x2": {"datum": 1},
           "y": {"datum": 0, "type": "quantitative", "scale": {"domain": [0, 1], "nice": false, "zero": false}, "axis": null},
           "y2": {"datum": 1}
         }},
        {"data": {"values": [{"v": 0}, {"v": 1}]}, "mark": {"type": "point", "opacity": 0},
         "encoding": {"x": {"field": "v", "type": "quantitative", "axis": {"orient": "bottom", "title": "7", "labels": false, "grid": false, "titleFontSize": 58, "titleAnchor": "end", "titleBaseline": "alphabetic", "titlePadding": 48}}, "y": {"datum": 0.5, "type": "quantitative", "axis": null}}},
        {"data": {"values": [{"v": 0}, {"v": 1}]}, "mark": {"type": "point", "opacity": 0},
         "encoding": {"x": {"field": "v", "type": "quantitative", "axis": {"orient": "bottom", "title": "For more information\u00a0\u200b", "labels": false, "grid": false, "titleFontSize": 14.5, "titleAnchor": "middle", "titleAlign": "right", "titleBaseline": "alphabetic", "titlePadding": 57}}, "y": {"datum": 0.5, "type": "quantitative", "axis": null}}},
        {"data": {"values": [{"v": 0}, {"v": 1}]}, "mark": {"type": "point", "opacity": 0},
         "encoding": {"x": {"field": "v", "type": "quantitative", "axis": {"orient": "bottom", "title": "www.analog.com", "labels": false, "grid": false, "titleFontSize": 14.5, "titleColor": "#1a1aff", "titleAnchor": "middle", "titleAlign": "left", "titleBaseline": "alphabetic", "titlePadding": 57}}, "y": {"datum": 0.5, "type": "quantitative", "axis": null}}}
      ],
      "resolve": {"axis": {"x": "independent"}}
    }
  ],
  "config": {
    "view": {"stroke": "black", "strokeWidth": 1.5},
    "axis": {"labelFont": "Liberation Sans, Arial, sans-serif", "labelFontSize": 13, "labelColor": "black", "titleFont": "Liberation Sans, Arial, sans-serif", "titleFontSize": 14, "titleFontWeight": "normal", "titleColor": "black", "gridColor": "#555555", "gridWidth": 1, "gridOpacity": 1, "domain": false, "ticks": false, "labelPadding": 9, "labelOverlap": false, "labelFlush": false},
    "title": {"font": "Liberation Sans, Arial, sans-serif", "fontWeight": "bold", "color": "black", "anchor": "start", "frame": "group"},
    "text": {"font": "Liberation Sans, Arial, sans-serif", "fontSize": 12.7, "color": "black"}
  }
}
